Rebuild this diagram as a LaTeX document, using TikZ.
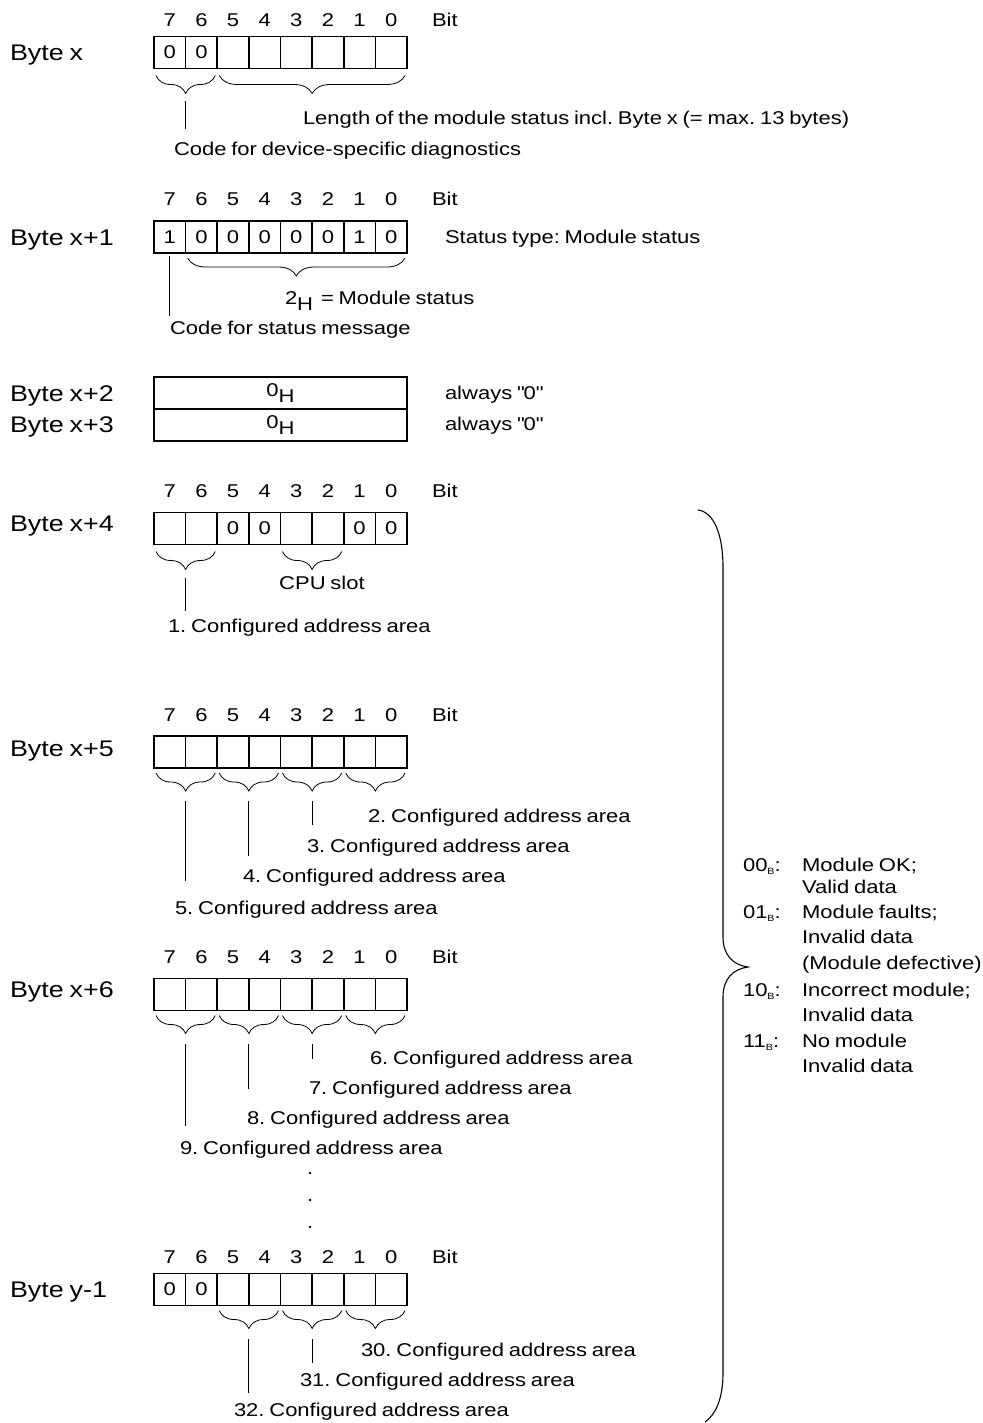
\documentclass[tikz,border=0pt]{standalone}
\usepackage{fontspec}
\setmainfont[FakeStretch=1.19,WordSpace=0.78]{Liberation Sans}
\usetikzlibrary{decorations.pathreplacing}
\frenchspacing
\newcommand{\cellx}[1]{154+(7.5-#1)*31.625}
\newcommand{\bytecells}[3]{%
  \foreach \i/\t in {#3} {\node[cell] (#1-\i) at ({\cellx{\i}}, #2) {\t};}}
\newcommand{\bitrow}[2]{%
  \foreach \i in {7,...,0} {\node[bitnum] (#1-n\i) at ({\cellx{\i}}, #2) {\i};}
  \node[txt] (#1-bit) at (432,#2) {Bit};}
\newcommand{\Hsub}{\raisebox{-6pt}{H}}
\newcommand{\bsub}{\raisebox{-3pt}{\fontsize{9}{9}\selectfont B}}
\newcommand{\sq}{\XeTeXglyph\XeTeXglyphindex "quotedbl" \relax}
\begin{document}
\frenchspacing
\begin{tikzpicture}[x=1pt,y=-1pt,
  every node/.style={inner sep=0pt, outer sep=0pt},
  txt/.style={anchor=west, font=\fontsize{18.5}{22}\selectfont\frenchspacing, text height=13.3pt, text depth=0pt},
  ctxt/.style={font=\fontsize{18.5}{22}\selectfont, text height=13.3pt, text depth=0pt},
  bytelbl/.style={anchor=west, font=\fontsize{22.6}{26}\selectfont, text height=16.2pt, text depth=0pt},
  bitnum/.style={font=\fontsize{18.5}{22}\selectfont, text height=13.3pt, text depth=0pt},
  cell/.style={draw, line width=1.6pt, minimum width=31.625pt, minimum height=32pt, font=\fontsize{18.5}{22}\selectfont},
  wide/.style={draw, line width=1.6pt, minimum width=253pt, minimum height=32pt, font=\fontsize{18.5}{22}\selectfont},
  br/.style={decorate, decoration={brace, mirror, amplitude=18pt}, line width=0.8pt},
  lead/.style={line width=0.8pt}
]
\useasboundingbox (0,0) rectangle (982,1423);

% ---------------- Byte x
\node[bytelbl] (lx) at (10,52) {Byte x};
\bitrow{a}{20}
\bytecells{a}{52.5}{7/0,6/0,5/,4/,3/,2/,1/,0/}
\draw[br] ([xshift=2pt,yshift=-7pt]a-7.south west) -- ([xshift=-2pt,yshift=-7pt]a-6.south east) coordinate[pos=0.5,yshift=-26pt] (a-t1);
\draw[br] ([xshift=2pt,yshift=-7pt]a-5.south west) -- ([xshift=-2pt,yshift=-7pt]a-0.south east);
\draw[lead] (a-t1) -- ++(0,28) coordinate (a-e1);
\node[txt] (a-len) at (303,118) {Length of the module status incl. Byte x (= max. 13 bytes)};
\node[txt] (a-code) at (174,149) {Code for device-specific diagnostics};

% ---------------- Byte x+1
\node[bytelbl] (lx1) at (10,237) {Byte x+1};
\bitrow{b}{199}
\bytecells{b}{237}{7/1,6/0,5/0,4/0,3/0,2/0,1/1,0/0}
\draw[br] ([xshift=2pt,yshift=-5pt]b-6.south west) -- ([xshift=-2pt,yshift=-5pt]b-0.south east);
\draw[lead] ([yshift=-3pt]b-7.south) -- ++(0,60) coordinate (b-e1);
\node[txt] (b-type) at (445,237) {Status type: Module status};
\node[txt] (b-mod) at (285,298) {2\Hsub{} \,= Module status};
\node[txt] (b-code) at (170,328) {Code for status message};

% ---------------- Byte x+2 / x+3
\node[bytelbl] (lx2) at (10,393) {Byte x+2};
\node[bytelbl] (lx3) at (10,424) {Byte x+3};
\node[wide] (c2) at (280.5,393) {0\Hsub};
\node[wide] (c3) at (280.5,425) {0\Hsub};
\node[txt] (c2t) at (445,393) {always \sq0\sq};
\node[txt] (c3t) at (445,424) {always \sq0\sq};

% ---------------- Byte x+4
\node[bytelbl] (lx4) at (10,523) {Byte x+4};
\bitrow{d}{491}
\bytecells{d}{528.5}{7/,6/,5/0,4/0,3/,2/,1/0,0/0}
\draw[br] ([xshift=2pt,yshift=-7pt]d-7.south west) -- ([xshift=-2pt,yshift=-7pt]d-6.south east) coordinate[pos=0.5,yshift=-26pt] (d-t1);
\draw[br] ([xshift=2pt,yshift=-7pt]d-3.south west) -- ([xshift=-2pt,yshift=-7pt]d-2.south east);
\node[ctxt] (d-cpu) at (322,583) {CPU slot};
\draw[lead] (d-t1) -- ++(0,33) coordinate (d-e1);
\node[txt] (d-1) at (168,626) {1. Configured address area};

% ---------------- Byte x+5
\node[bytelbl] (lx5) at (10,748) {Byte x+5};
\bitrow{e}{715}
\bytecells{e}{752}{7/,6/,5/,4/,3/,2/,1/,0/}
\draw[br] ([xshift=2pt,yshift=-5pt]e-7.south west) -- ([xshift=-2pt,yshift=-5pt]e-6.south east) coordinate[pos=0.5,yshift=-28pt] (e-t1);
\draw[br] ([xshift=2pt,yshift=-5pt]e-5.south west) -- ([xshift=-2pt,yshift=-5pt]e-4.south east) coordinate[pos=0.5,yshift=-28pt] (e-t2);
\draw[br] ([xshift=2pt,yshift=-5pt]e-3.south west) -- ([xshift=-2pt,yshift=-5pt]e-2.south east) coordinate[pos=0.5,yshift=-28pt] (e-t3);
\draw[br] ([xshift=2pt,yshift=-5pt]e-1.south west) -- ([xshift=-2pt,yshift=-5pt]e-0.south east);
\draw[lead] (e-t1) -- ++(0,80);
\draw[lead] (e-t2) -- ++(0,55);
\draw[lead] (e-t3) -- ++(0,24);
\node[txt] (e-2) at (368,816) {2. Configured address area};
\node[txt] (e-3) at (307,846) {3. Configured address area};
\node[txt] (e-4) at (243,876) {4. Configured address area};
\node[txt] (e-5) at (175,908) {5. Configured address area};

% ---------------- Byte x+6
\node[bytelbl] (lx6) at (10,989) {Byte x+6};
\bitrow{f}{957}
\bytecells{f}{994.5}{7/,6/,5/,4/,3/,2/,1/,0/}
\draw[br] ([xshift=2pt,yshift=-5pt]f-7.south west) -- ([xshift=-2pt,yshift=-5pt]f-6.south east) coordinate[pos=0.5,yshift=-28pt] (f-t1);
\draw[br] ([xshift=2pt,yshift=-5pt]f-5.south west) -- ([xshift=-2pt,yshift=-5pt]f-4.south east) coordinate[pos=0.5,yshift=-28pt] (f-t2);
\draw[br] ([xshift=2pt,yshift=-5pt]f-3.south west) -- ([xshift=-2pt,yshift=-5pt]f-2.south east) coordinate[pos=0.5,yshift=-28pt] (f-t3);
\draw[br] ([xshift=2pt,yshift=-5pt]f-1.south west) -- ([xshift=-2pt,yshift=-5pt]f-0.south east);
\draw[lead] (f-t1) -- ++(0,82);
\draw[lead] (f-t2) -- ++(0,45);
\draw[lead] (f-t3) -- ++(0,15);
\node[txt] (f-6) at (370,1058) {6. Configured address area};
\node[txt] (f-7) at (309,1088) {7. Configured address area};
\node[txt] (f-8) at (247,1118) {8. Configured address area};
\node[txt] (f-9) at (180,1148) {9. Configured address area};

% dots
\fill (310,1173) circle (1.4);
\fill (310,1200) circle (1.4);
\fill (310,1227) circle (1.4);

% ---------------- Byte y-1
\node[bytelbl] (ly) at (10,1289) {Byte y-1};
\bitrow{g}{1257}
\bytecells{g}{1289.5}{7/0,6/0,5/,4/,3/,2/,1/,0/}
\draw[br] ([xshift=2pt,yshift=-5pt]g-5.south west) -- ([xshift=-2pt,yshift=-5pt]g-4.south east) coordinate[pos=0.5,yshift=-28pt] (g-t2);
\draw[br] ([xshift=2pt,yshift=-5pt]g-3.south west) -- ([xshift=-2pt,yshift=-5pt]g-2.south east) coordinate[pos=0.5,yshift=-28pt] (g-t3);
\draw[br] ([xshift=2pt,yshift=-5pt]g-1.south west) -- ([xshift=-2pt,yshift=-5pt]g-0.south east);
\draw[lead] (g-t2) -- ++(0,54);
\draw[lead] (g-t3) -- ++(0,24);
\node[txt] (g-30) at (361,1350) {30. Configured address area};
\node[txt] (g-31) at (300,1380) {31. Configured address area};
\node[txt] (g-32) at (234,1410) {32. Configured address area};

% ---------------- big brace
\draw[line width=1.1pt] (698,510) .. controls (714,512) and (723,535) .. (723,567)
  -- (723,937) .. controls (723,955) and (733,965) .. (748,967)
  .. controls (733,969) and (723,979) .. (723,997)
  -- (723,1373) .. controls (723,1400) and (715,1415) .. (705,1422);

% ---------------- legend
\node[txt] (k0) at (743,865) {00\bsub:};
\node[txt] (k0a) at (802,865) {Module OK;};
\node[txt] (k0b) at (802,887) {Valid data};
\node[txt] (k1) at (743,912) {01\bsub:};
\node[txt] (k1a) at (802,912) {Module faults;};
\node[txt] (k1b) at (802,937) {Invalid data};
\node[txt] (k1c) at (802,963) {(Module defective)};
\node[txt] (k2) at (743,990) {10\bsub:};
\node[txt] (k2a) at (802,990) {Incorrect module;};
\node[txt] (k2b) at (802,1015) {Invalid data};
\node[txt] (k3) at (743,1041) {11\bsub:};
\node[txt] (k3a) at (802,1041) {No module};
\node[txt] (k3b) at (802,1066) {Invalid data};
\end{tikzpicture}
\end{document}
